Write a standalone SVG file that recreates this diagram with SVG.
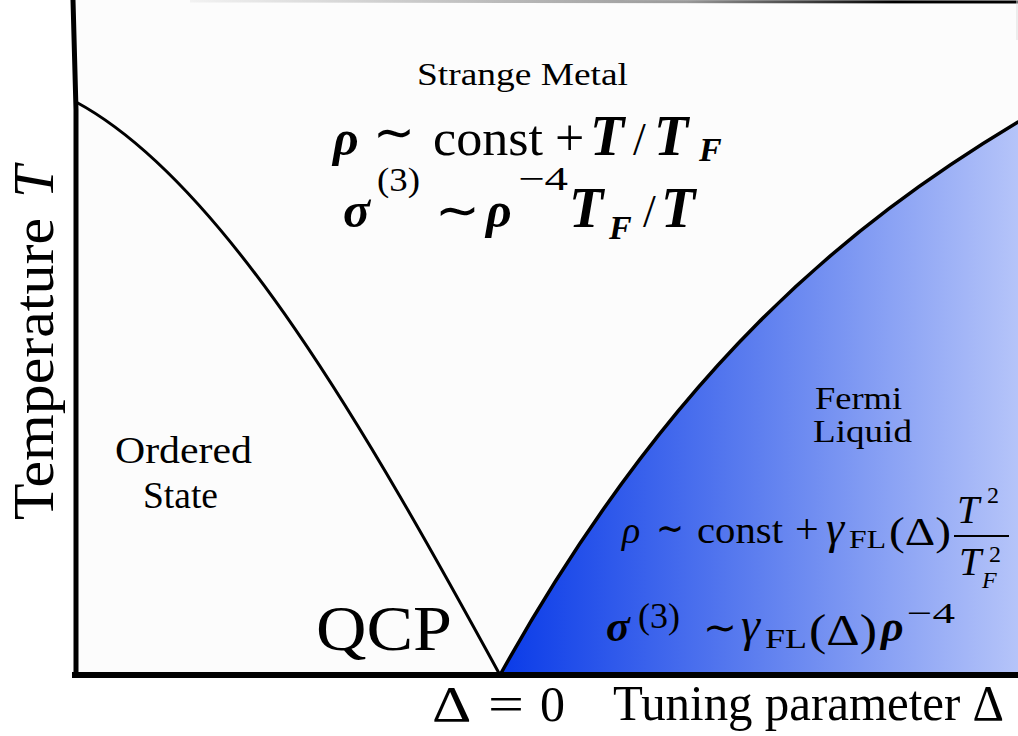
<svg xmlns="http://www.w3.org/2000/svg" width="1018" height="736" viewBox="0 0 1018 736">
<defs>
<linearGradient id="fl" gradientUnits="userSpaceOnUse" x1="500" y1="0" x2="1018" y2="0">
<stop offset="0" stop-color="#0a3be8"/>
<stop offset="0.5" stop-color="#5e7fef"/>
<stop offset="1" stop-color="#b5c4f9"/>
</linearGradient>
<linearGradient id="topg" gradientUnits="userSpaceOnUse" x1="190" y1="0" x2="1018" y2="0">
<stop offset="0" stop-color="#f2f2f2"/>
<stop offset="0.6" stop-color="#999999"/>
<stop offset="0.85" stop-color="#000000"/>
</linearGradient>
<style>
.t{font-family:"Liberation Serif","DejaVu Serif",serif;fill:#000}
.i{font-style:italic}
.b{font-weight:bold}
.sym{font-family:"DejaVu Sans","Liberation Serif",serif}
.line{fill:none;stroke:#000;stroke-linecap:round}
</style>
</defs>
<rect x="0" y="0" width="1018" height="736" fill="#ffffff"/>
<rect x="76" y="0" width="942" height="675" fill="#fcfcfc"/>

<g id="fermi-liquid-region">
<path d="M500,675 C670,369 848,224 1018,122 L1018,675 Z" fill="url(#fl)"/>
</g>

<g id="connectors">
<path class="line" d="M76,102 C226,183 370,437 500,675" stroke-width="3"/>
<path class="line" d="M500,675 C670,369 848,224 1018,122" stroke-width="3.5"/>
<line x1="190" y1="1" x2="1018" y2="2" stroke="url(#topg)" stroke-width="3"/>
<line x1="1017" y1="0" x2="1017" y2="40" stroke="#dddddd" stroke-width="1"/>
<path d="M73,0 L76,110 L76,675" fill="none" stroke="#000" stroke-width="5"/>
<line x1="72" y1="675" x2="1018" y2="675" stroke="#000" stroke-width="6"/>
</g>

<g id="strange-metal">
<text class="t" x="417" y="85" font-size="31" textLength="211" lengthAdjust="spacingAndGlyphs">Strange Metal</text>
<text class="t" font-size="50" y="155">
<tspan class="i b" x="333" y="155">ρ</tspan>
<tspan class="sym" x="373" y="150" font-size="52" textLength="42" lengthAdjust="spacingAndGlyphs">∼</tspan>
<tspan x="433" y="155" textLength="110" lengthAdjust="spacingAndGlyphs">const</tspan>
<tspan x="555" y="155" font-size="52">+</tspan>
<tspan class="i b" x="590" y="155" font-size="56">T</tspan>
<tspan x="633" y="155" font-size="46">/</tspan>
<tspan class="i b" x="654" y="155" font-size="56">T</tspan>
<tspan class="i b" x="699" y="161" font-size="34">F</tspan>
</text>
<text class="t" font-size="50" y="227">
<tspan class="i b" x="343" y="227">σ</tspan>
<tspan x="377" y="191" font-size="34" textLength="43" lengthAdjust="spacingAndGlyphs">(3)</tspan>
<tspan class="sym" x="435" y="228" font-size="52" textLength="45" lengthAdjust="spacingAndGlyphs">∼</tspan>
<tspan class="i b" x="486" y="227">ρ</tspan>
<tspan x="518" y="190" font-size="34" textLength="50" lengthAdjust="spacingAndGlyphs">−4</tspan>
<tspan class="i b" x="569" y="227" font-size="56">T</tspan>
<tspan class="i b" x="609" y="239" font-size="34">F</tspan>
<tspan x="643" y="227" font-size="46">/</tspan>
<tspan class="i b" x="661" y="227" font-size="56">T</tspan>
</text>
</g>

<g id="ordered-state">
<text class="t" x="115" y="463" font-size="37" textLength="137" lengthAdjust="spacingAndGlyphs">Ordered</text>
<text class="t" x="143" y="508" font-size="37" textLength="75" lengthAdjust="spacingAndGlyphs">State</text>
</g>

<g id="fermi-liquid">
<text class="t" x="815" y="409" font-size="32" textLength="87" lengthAdjust="spacingAndGlyphs">Fermi</text>
<text class="t" x="813" y="442" font-size="32" textLength="99" lengthAdjust="spacingAndGlyphs">Liquid</text>
<text class="t" font-size="38" y="543">
<tspan class="i" x="622" y="543">ρ</tspan>
<tspan class="sym" x="656" y="541" font-size="38" textLength="28" lengthAdjust="spacingAndGlyphs">∼</tspan>
<tspan x="697" y="543" textLength="86" lengthAdjust="spacingAndGlyphs">const</tspan>
<tspan x="795" y="543" font-size="42">+</tspan>
<tspan class="i" x="826" y="543" font-size="46">γ</tspan>
<tspan x="849" y="548" font-size="25" textLength="37" lengthAdjust="spacingAndGlyphs">FL</tspan>
<tspan x="889" y="545" font-size="40" textLength="62" lengthAdjust="spacingAndGlyphs">(Δ)</tspan>
<tspan class="i" x="957" y="523" font-size="40">T</tspan>
<tspan x="987" y="503" font-size="24">2</tspan>
<tspan class="i" x="959" y="575" font-size="40">T</tspan>
<tspan x="989" y="562" font-size="24">2</tspan>
<tspan class="i" x="982" y="588" font-size="24">F</tspan>
</text>
<line x1="954" y1="536" x2="1009" y2="536" stroke="#000" stroke-width="2"/>
<text class="t" font-size="44" y="641">
<tspan class="i b" x="606" y="641">σ</tspan>
<tspan x="638" y="628" font-size="36" textLength="42" lengthAdjust="spacingAndGlyphs">(3)</tspan>
<tspan class="sym" x="703" y="641" font-size="40" textLength="34" lengthAdjust="spacingAndGlyphs">∼</tspan>
<tspan class="i" x="741" y="641" font-size="48">γ</tspan>
<tspan x="765" y="648" font-size="27" textLength="42" lengthAdjust="spacingAndGlyphs">FL</tspan>
<tspan x="809" y="645" font-size="44" textLength="68" lengthAdjust="spacingAndGlyphs">(Δ)</tspan>
<tspan class="i b" x="881" y="641">ρ</tspan>
<tspan x="907" y="623" font-size="30" textLength="48" lengthAdjust="spacingAndGlyphs">−4</tspan>
</text>
</g>

<g id="qcp">
<text class="t" x="316" y="650" font-size="64" textLength="136" lengthAdjust="spacingAndGlyphs">QCP</text>
</g>

<g id="axis-labels">
<text class="t" font-size="50" y="721">
<tspan x="432" y="721" textLength="36" lengthAdjust="spacingAndGlyphs">Δ</tspan>
<tspan x="488" y="721" textLength="36" lengthAdjust="spacingAndGlyphs">=</tspan>
<tspan x="540" y="721">0</tspan>
</text>
<text class="t" x="613" y="720" font-size="50" textLength="391" lengthAdjust="spacingAndGlyphs">Tuning parameter Δ</text>
<text class="t" font-size="58" transform="translate(53,520) rotate(-90)">
<tspan x="0" y="0" textLength="302" lengthAdjust="spacingAndGlyphs">Temperature</tspan>
<tspan class="i" x="322" y="0">T</tspan>
</text>
</g>
</svg>
